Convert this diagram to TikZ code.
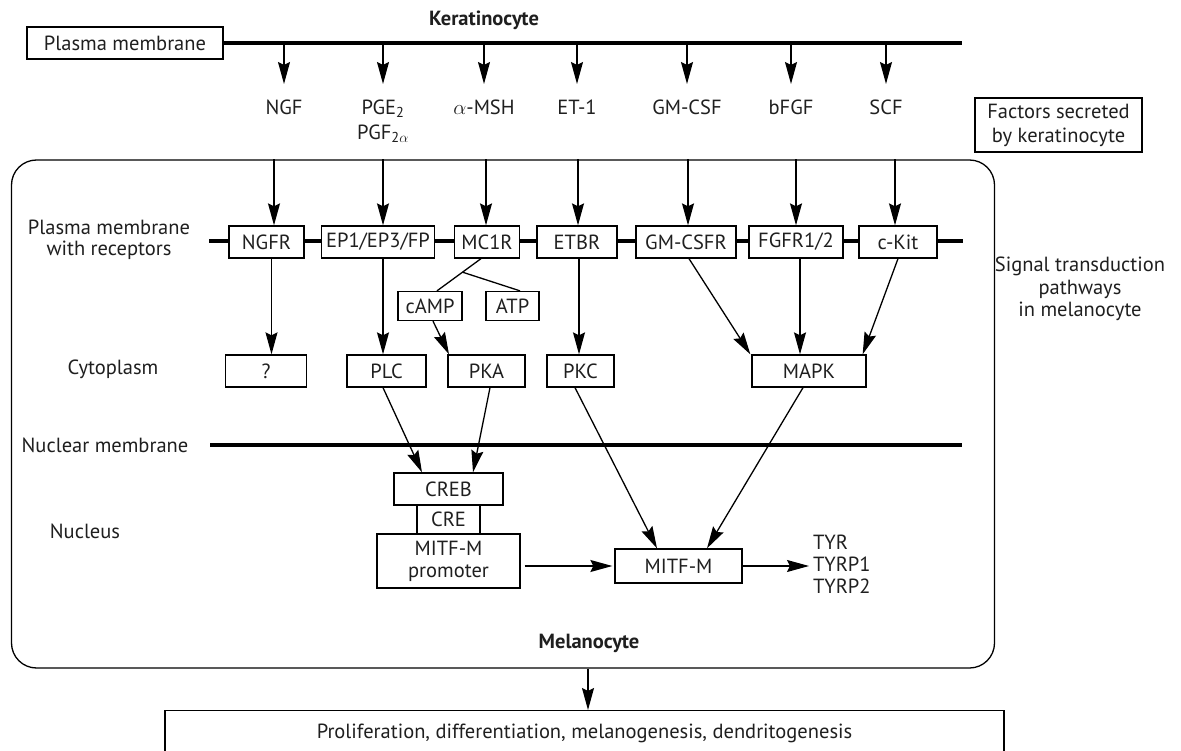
\documentclass[tikz,border=0pt]{standalone}
\usepackage{fontspec}
\setmainfont{PT Sans}
\usetikzlibrary{arrows.meta,calc}
\begin{document}
\begin{tikzpicture}[x=1pt,y=-1pt,
  every node/.style={font=\fontsize{20.5}{23}\selectfont, inner sep=0pt, text=black!88},
  box/.style={draw=black, line width=1.3pt, fill=white, align=center},
  arr/.style={line width=1.3pt, -{Stealth[length=22pt,width=12pt,inset=3pt]}},
  ln/.style={line width=1.3pt},
  mem/.style={line width=3.3pt},
  lbl/.style={align=center}]
\path[use as bounding box, clip] (0,0) rectangle (1181,751);
\fill[white] (0,0) rectangle (1181,751);

% ---------------- keratinocyte ----------------
\node[box, minimum width=196pt, minimum height=32pt] (pm) at (125,43) {Plasma membrane};
\coordinate (pmend) at (962,43);
\draw[mem] (pm.east) -- (pmend);
\node[font=\fontsize{20.5}{23}\selectfont\bfseries] (kera) at (484,20) {Keratinocyte};

\coordinate (k1) at (284,43); \coordinate (t1) at (284,84);
\coordinate (k2) at (383,43); \coordinate (t2) at (383,84);
\coordinate (k3) at (484,43); \coordinate (t3) at (484,84);
\coordinate (k4) at (577,43); \coordinate (t4) at (577,84);
\coordinate (k5) at (687,43); \coordinate (t5) at (687,84);
\coordinate (k6) at (791,43); \coordinate (t6) at (791,84);
\coordinate (k7) at (886,43); \coordinate (t7) at (886,84);
\foreach \i in {1,...,7} {\draw[arr] (k\i) -- (t\i);}

\node (fngf) at (284,107) {NGF};
\node (fpge) at (383,109) {PGE\textsubscript{2}};
\node (fpgf) at (383,134) {PGF\textsubscript{2$\alpha$}};
\node (fmsh) at (484,107) {$\alpha$-MSH};
\node (fet) at (577,107) {ET-1};
\node (fgm) at (687,107) {GM-CSF};
\node (fbf) at (791,107) {bFGF};
\node (fscf) at (886,107) {SCF};

\node[box, minimum width=167pt, minimum height=54pt, font=\fontsize{20.5}{24}\selectfont] (fact) at (1058.5,125) {Factors secreted\\by keratinocyte};

% ---------------- melanocyte ----------------
\node[draw=black, line width=1.3pt, rounded corners=25pt, minimum width=983pt, minimum height=508pt] (mel) at (503,414) {};
\node[font=\fontsize{20.5}{23}\selectfont\bfseries] (meltxt) at (589,643) {Melanocyte};

% receptor membrane
\coordinate (rm1) at (209,241); \coordinate (rm2) at (963,241);
\draw[mem] (rm1) -- (rm2);

\node[box, minimum width=75pt, minimum height=32pt] (ngfr) at (266.5,242) {NGFR};
\node[box, minimum width=113pt, minimum height=32pt] (ep) at (378,242) {EP1/EP3/FP};
\node[box, minimum width=65pt, minimum height=32pt] (mc1r) at (487,242) {MC1R};
\node[box, minimum width=80pt, minimum height=32pt] (etbr) at (577,242) {ETBR};
\node[box, minimum width=100pt, minimum height=32pt] (gm) at (686,242) {GM-CSFR};
\node[box, minimum width=94pt, minimum height=32pt] (fgfr) at (796,242) {FGFR1/2};
\node[box, minimum width=78pt, minimum height=32pt] (ckit) at (898,242) {c-Kit};

% arrows into receptors
\coordinate (a1) at (274,0);
\coordinate (a2) at (383,0);
\coordinate (a3) at (486,0);
\coordinate (a4) at (578,0);
\coordinate (a5) at (688,0);
\coordinate (a6) at (796,0);
\coordinate (a7) at (895,0);
\draw[arr] (a1 |- mel.north) -- (a1 |- ngfr.north);
\draw[arr] (a2 |- mel.north) -- (a2 |- ep.north);
\draw[arr] (a3 |- mel.north) -- (a3 |- mc1r.north);
\draw[arr] (a4 |- mel.north) -- (a4 |- etbr.north);
\draw[arr] (a5 |- mel.north) -- (a5 |- gm.north);
\draw[arr] (a6 |- mel.north) -- (a6 |- fgfr.north);
\draw[arr] (a7 |- mel.north) -- (a7 |- ckit.north);

% second messengers
\node[box, minimum width=64pt, minimum height=29pt] (camp) at (430,306) {cAMP};
\node[box, minimum width=53pt, minimum height=29pt] (atp) at (512.5,306) {ATP};

% cytoplasm
\node[box, minimum width=81pt, minimum height=32pt] (q) at (266,371) {?};
\node[box, minimum width=79pt, minimum height=32pt] (plc) at (386.5,371) {PLC};
\node[box, minimum width=77pt, minimum height=32pt] (pka) at (486.5,371) {PKA};
\node[box, minimum width=67pt, minimum height=32pt] (pkc) at (580.5,371) {PKC};
\node[box, minimum width=114pt, minimum height=32pt] (mapk) at (809,371) {MAPK};

% MC1R split
\coordinate (mcb) at ([xshift=-6pt]mc1r.south);
\coordinate (ctop) at ([xshift=7pt]camp.north);
\coordinate (br) at ($(mcb)!0.42!(ctop)$);
\coordinate (atop) at ([xshift=7.5pt]atp.north);
\draw[ln] (mcb) -- (ctop);
\draw[ln] (br) -- (atop);
\draw[arr] ([xshift=3pt]camp.south) -- ([xshift=-37.5pt]pka.north);

% receptor -> cytoplasm
\draw[arr] ([xshift=5pt]ngfr.south) -- ([xshift=5pt]ngfr.south |- q.north);
\draw[arr] ([xshift=5pt]ep.south) -- ([xshift=5pt]ep.south |- plc.north);
\draw[arr] ([xshift=2pt]etbr.south) -- ([xshift=2pt]etbr.south |- pkc.north);
\draw[arr] ([xshift=3pt]gm.south) -- ([xshift=-1pt]mapk.north west);
\draw[arr] ([xshift=4pt]fgfr.south) -- ([xshift=4pt]fgfr.south |- mapk.north);
\draw[arr] (ckit.south) -- ([xshift=-4pt]mapk.north east);

% nuclear membrane
\coordinate (nm1) at (210,445); \coordinate (nm2) at (962,445);
\draw[mem] (nm1) -- (nm2);

% nucleus
\node[box, minimum width=109pt, minimum height=32pt] (creb) at (448.5,489) {CREB};
\node[box, minimum width=63pt, minimum height=29pt] (cre) at (448.5,519.5) {CRE};
\node[box, minimum width=143pt, minimum height=54pt, font=\fontsize{20.5}{22}\selectfont] (prom) at (448.5,561) {MITF-M\\promoter};
\node[box, minimum width=127pt, minimum height=34pt] (mitf) at (678.5,566) {MITF-M};
\node[align=left, anchor=west, font=\fontsize{20.5}{22}\selectfont] (tyr) at (813,564) {TYR\\TYRP1\\TYRP2};

\draw[arr] ([xshift=-3.5pt]plc.south) -- ([xshift=-26.5pt]creb.north);
\draw[arr] ([xshift=3.5pt]pka.south) -- ([xshift=24.5pt]creb.north);
\draw[arr] ([xshift=-5.5pt]pkc.south) -- ([xshift=-21.5pt]mitf.north);
\draw[arr] ([xshift=-6pt]mapk.south) -- ([xshift=28.5pt]mitf.north);
\draw[arr] ([xshift=4pt]prom.east |- mitf.west) -- ([xshift=-2pt]mitf.west);
\draw[arr] (mitf.east) -- ([xshift=-4pt]tyr.west |- mitf.east);

% side labels
\node[lbl, font=\fontsize{20.5}{21.5}\selectfont] (lpm) at (109,240) {Plasma membrane\\with receptors};
\node (lcyt) at (113,369) {Cytoplasm};
\node (lnm) at (105,445) {Nuclear membrane};
\node (lnuc) at (85,531) {Nucleus};
\node[lbl, font=\fontsize{20.5}{22.5}\selectfont] (sig) at (1080,289) {Signal transduction\\pathways\\in melanocyte};

% outcome
\node[box, anchor=north, minimum width=839pt, inner ysep=13pt, text depth=70pt] (prolif) at (584.5,710) {Proliferation, differentiation, melanogenesis, dendritogenesis};
\coordinate (mb) at (588,0);
\draw[arr] (mb |- mel.south) -- (mb |- prolif.north);
\end{tikzpicture}
\end{document}
